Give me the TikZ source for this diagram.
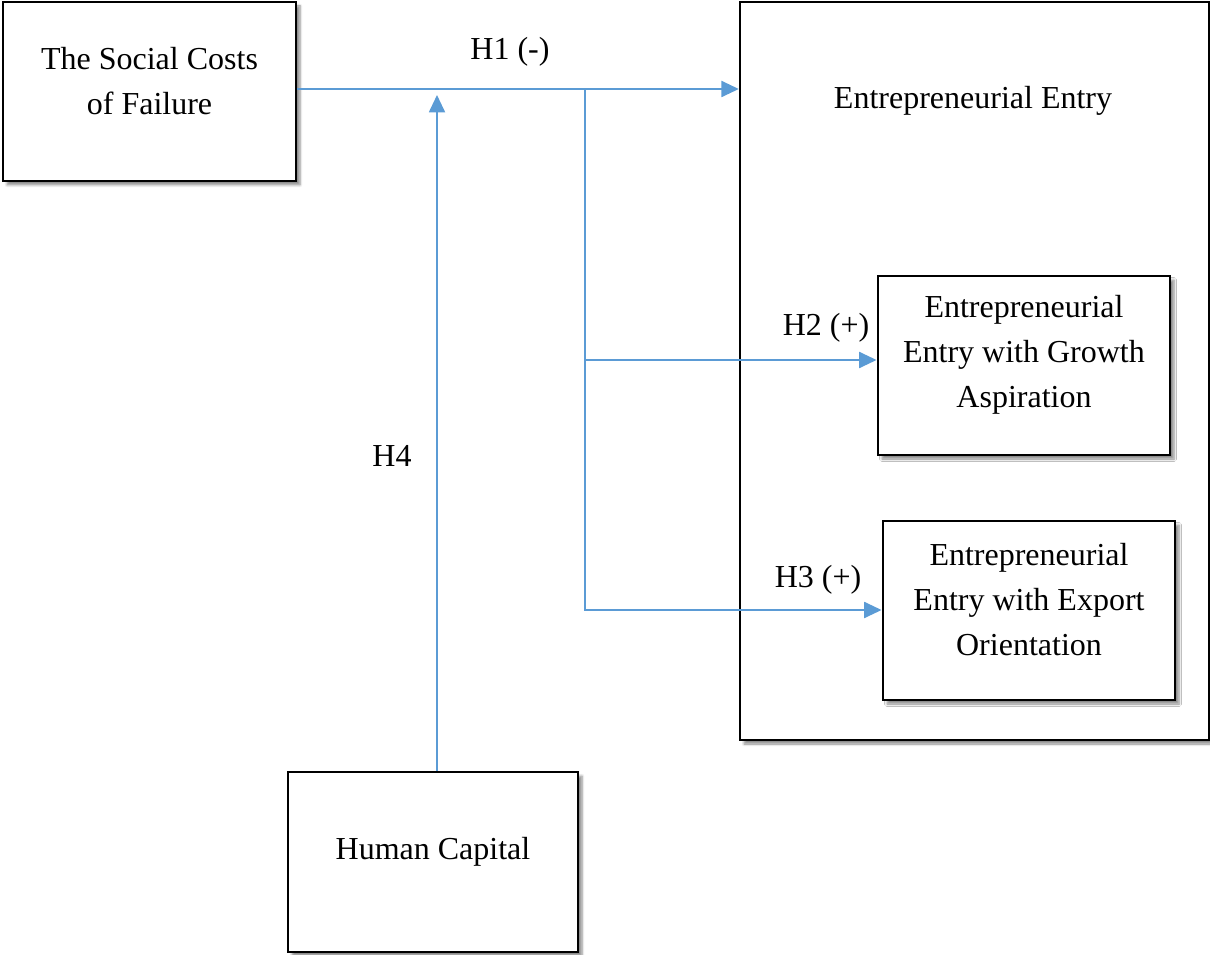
\documentclass[tikz,border=0pt]{standalone}
\usepackage{fontspec}
\setmainfont{Liberation Serif}
\usetikzlibrary{positioning,arrows.meta,shadows.blur}
\definecolor{linkblue}{RGB}{91,155,213}

\begin{document}
\begin{tikzpicture}[
  x=0.75pt, y=-0.75pt,
  >={Triangle[length=13pt,width=12pt]},
  txt/.style={inner sep=0pt, align=center, font=\fontsize{24}{33.75}\selectfont},
  box/.style={
    rectangle, draw, line width=2.2pt, fill=white, inner sep=0pt,
    blur shadow={shadow xshift=3pt, shadow yshift=-3pt, shadow blur steps=6, shadow opacity=45}
  },
  boxtext/.style={label={[txt, yshift=8pt]center:#1}},
  arrow/.style={->, linkblue, line width=1.4pt}
]
\useasboundingbox (0,0) rectangle (1210,955);

\node (entry) [box, line width=1.8pt, minimum width=469*0.75pt, minimum height=738*0.75pt] at (974.5,371) {};
\node (entrytxt) [txt] at (973,101) {Entrepreneurial Entry};

\node (social) [box, minimum width=293*0.75pt, minimum height=179*0.75pt,
  boxtext={The Social Costs\\ of Failure}] at (149.5,91.5) {};

\node (growth) [box, minimum width=292*0.75pt, minimum height=179*0.75pt,
  boxtext={Entrepreneurial\\ Entry with Growth\\ Aspiration}] at (1024,365.5) {};

\node (export) [box, minimum width=292*0.75pt, minimum height=179*0.75pt,
  boxtext={Entrepreneurial\\ Entry with Export\\ Orientation}] at (1029,610.5) {};

\node (human) [box, minimum width=290*0.75pt, minimum height=180*0.75pt,
  boxtext={Human Capital}] at (433,862) {};

\coordinate (split) at (585,89);
\coordinate (h2start) at (585,360);
\coordinate (h3start) at (585,610);
\coordinate (h4end) at (437,95);

\draw[arrow] (social.east |- split) -- (split -| entry.west);
\draw[arrow] (split) -- (h2start) -- (h2start -| growth.west);
\draw[arrow] (h2start) -- (h3start) -- (h3start -| export.west);
\draw[arrow] (human.north -| h4end) -- (h4end);

\node (lblH1) [txt] at (510,52) {H1 (-)};
\node (lblH2) [txt] at (826,328) {H2 (+)};
\node (lblH3) [txt] at (818,580) {H3 (+)};
\node (lblH4) [txt] at (392,456) {H4};
\end{tikzpicture}
\end{document}
